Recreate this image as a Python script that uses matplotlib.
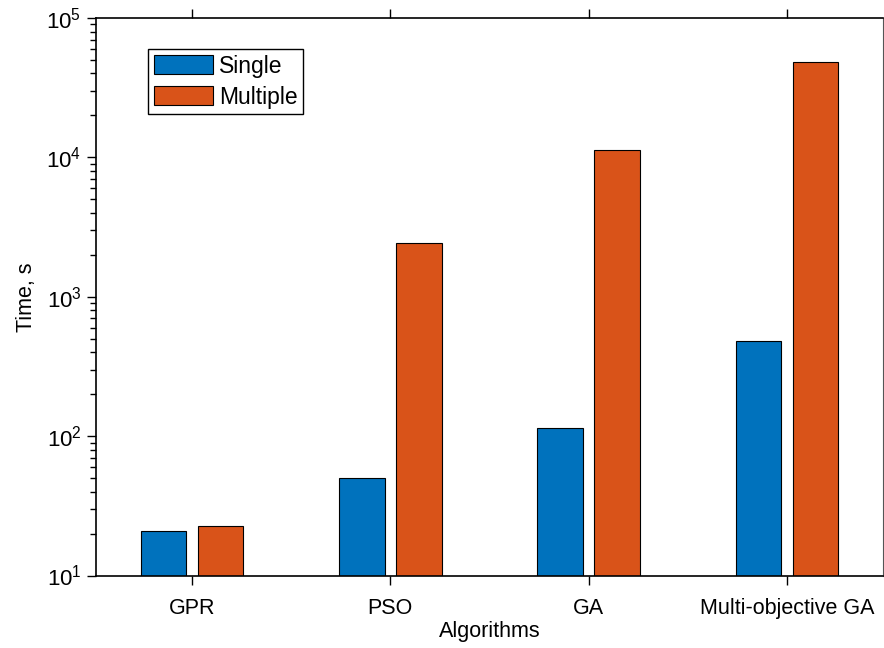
import matplotlib
matplotlib.use("Agg")
import matplotlib.pyplot as plt
import numpy as np

categories = ["GPR", "PSO", "GA", "Multi-objective GA"]
single = [21, 50, 114, 483]
multiple = [22.7, 2420, 11300, 48300]
series_names = ["Single", "Multiple"]

plt.rcParams['font.family'] = ['Liberation Sans', 'DejaVu Sans']
plt.rcParams['mathtext.fontset'] = 'custom'
plt.rcParams['mathtext.rm'] = 'Liberation Sans'
plt.rcParams['mathtext.it'] = 'Liberation Sans'

FS = 15.5

fig = plt.figure(figsize=(8.84, 6.48), dpi=100)
ax = fig.add_axes([96/884, (648-575.5)/648, (883-96)/884, (575.5-18)/648])

x = np.arange(1, len(categories) + 1)
w = 0.23
off = 0.143
ax.bar(x - off, single, w, color="#0072BD", edgecolor="black", linewidth=0.8, label=series_names[0])
ax.bar(x + off, multiple, w, color="#D95319", edgecolor="black", linewidth=0.8, label=series_names[1])

ax.set_yscale("log")
ax.set_ylim(10, 1e5)
ax.set_xlim(0.516, 4.484)
ax.set_xticks(x)
ax.set_xticklabels(categories, fontsize=FS)
ax.tick_params(axis='y', labelsize=16)
ax.tick_params(axis='both', which='major', direction='out', length=6.5, width=1.0, top=True, right=False)
ax.tick_params(axis='both', which='minor', direction='out', length=4, width=1.0, right=False)
ax.tick_params(axis='x', which='minor', bottom=False, top=False)
ax.tick_params(axis='x', pad=10)
ax.tick_params(axis='y', pad=4)
for s in ax.spines.values():
    s.set_linewidth(1.2)
ax.spines['right'].set_linewidth(0.8)
ax.spines['right'].set_color('#555555')

ax.set_xlabel("Algorithms", fontsize=FS, labelpad=1)
ax.set_ylabel("Time, s", fontsize=FS, labelpad=7)

leg = ax.legend(loc="upper left", bbox_to_anchor=(52/787, 1 - 31/557.5), fontsize=16.5,
                frameon=True, fancybox=False, edgecolor="black", framealpha=1,
                handlelength=2.6, handleheight=0.9, handletextpad=0.25,
                borderpad=0.25, labelspacing=0.35, borderaxespad=0)
leg.get_frame().set_linewidth(1.0)

fig.savefig("out.png", dpi=100)
